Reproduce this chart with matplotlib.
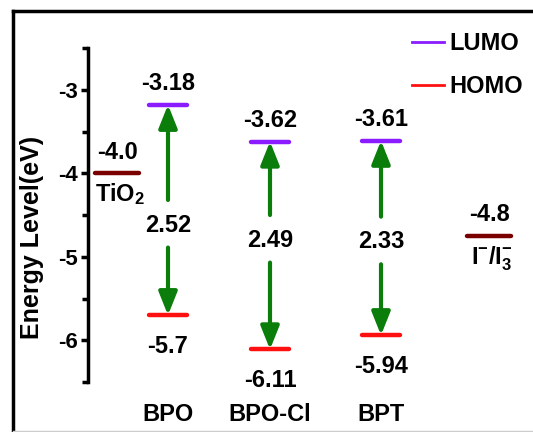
import matplotlib
matplotlib.use("Agg")
import matplotlib.pyplot as plt
from matplotlib.lines import Line2D

plt.rcParams['font.family'] = ['Liberation Sans', 'DejaVu Sans']
plt.rcParams['font.weight'] = 'bold'
plt.rcParams['mathtext.fontset'] = 'custom'
plt.rcParams['mathtext.rm'] = 'Liberation Sans:bold'
plt.rcParams['mathtext.bf'] = 'Liberation Sans:bold'
plt.rcParams['mathtext.it'] = 'Liberation Sans:bold'
plt.rcParams['mathtext.default'] = 'rm'

# data
compounds = ['BPO', 'BPO-Cl', 'BPT']
lumo = [-3.18, -3.62, -3.61]
homo = [-5.7, -6.11, -5.94]
gaps = ['2.52', '2.49', '2.33']
lumo_txt = ['-3.18', '-3.62', '-3.61']
homo_txt = ['-5.7', '-6.11', '-5.94']
refs = ['TiO$_2$', 'I$^{-}$/I$_3^{-}$']
ref_levels = [-4.0, -4.75]
ref_txt = ['-4.0', '-4.8']

# layout
x_cmp = [0.80, 1.82, 2.93]
x_ref = [0.29, 4.01]
gap_y = [-4.62, -4.80, -4.82]
hw = 0.19

fig = plt.figure(figsize=(5.33, 4.32), dpi=100)
W, H = 533.0, 432.0
ax = fig.add_axes([88/W, 1-382/H, (W-88)/W, (382-48)/H])

purple = '#8a1cff'
red = '#ff1010'
dark = '#7a0000'
green = '#0a7d0a'

for x, l, h in zip(x_cmp, lumo, homo):
    ax.plot([x-hw, x+hw], [l, l], color=purple, lw=3.2, solid_capstyle='round', zorder=3)
    ax.plot([x-hw, x+hw], [h, h], color=red, lw=3.2, solid_capstyle='round', zorder=3)

for x, e in zip(x_ref, ref_levels):
    ax.plot([x-hw-0.03, x+hw+0.03], [e, e], color=dark, lw=3.2, solid_capstyle='round')

# arrows and gap text
for x, l, h, g, gy in zip(x_cmp, lumo, homo, gaps, gap_y):
    aprops = dict(arrowstyle='-|>,head_length=0.7,head_width=0.28', color=green,
                  lw=3, shrinkA=0, shrinkB=0, mutation_scale=20)
    ax.annotate('', xy=(x, l), xytext=(x, gy+0.3), arrowprops=aprops)
    ax.annotate('', xy=(x, h), xytext=(x, gy-0.27), arrowprops=aprops)
    ax.text(x, gy, g, ha='center', va='center', fontsize=17)

for x, l, t in zip(x_cmp, lumo, lumo_txt):
    ax.annotate(t, (x, l), xytext=(0, 7), textcoords='offset points',
                ha='center', va='bottom', fontsize=17)
for x, h, t in zip(x_cmp, homo, homo_txt):
    ax.annotate(t, (x, h), xytext=(0, -14), textcoords='offset points',
                ha='center', va='top', fontsize=17)

for x, e, t, n in zip(x_ref, ref_levels, ref_txt, refs):
    ax.annotate(t, (x, e), xytext=(0, 7), textcoords='offset points',
                ha='center', va='bottom', fontsize=17)
    ax.annotate(n, (x, e), xytext=(2, -6), textcoords='offset points',
                ha='center', va='top', fontsize=17)

ax.set_xlim(0, 4.45)
ax.set_ylim(-6.5, -2.5)
ax.set_yticks([-6, -5, -4, -3])
ax.set_yticks([-6.5, -5.5, -4.5, -3.5, -2.5], minor=True)
ax.set_yticklabels(['-6', '-5', '-4', '-3'], fontsize=16)
ax.tick_params(axis='y', which='major', length=5, width=2.5, pad=2)
ax.tick_params(axis='y', which='minor', length=4, width=2.5)
ax.set_xticks(x_cmp)
ax.set_xticklabels(compounds, fontsize=17)
ax.tick_params(axis='x', length=0, pad=15)
for s in ['top', 'right', 'bottom']:
    ax.spines[s].set_visible(False)
ax.spines['left'].set_linewidth(2.5)

handles = [Line2D([], [], color=purple, lw=2), Line2D([], [], color=red, lw=2)]
fig.legend(handles, ['LUMO', 'HOMO'], loc='upper left', bbox_to_anchor=(412/W, 1-32/H),
           frameon=False, fontsize=17, handlelength=1.35, handletextpad=0.25,
           labelspacing=0.85, borderpad=0, borderaxespad=0)

fig.text(32/W, 1-237/H, 'Energy Level(eV)', rotation=90, ha='center', va='center', fontsize=18)

# outer frame
fig.add_artist(Line2D([13/W, 13/W], [0, 1-11/H], color='black', lw=2.5))
fig.add_artist(Line2D([13/W, 1], [1-11/H, 1-11/H], color='black', lw=2.5))
fig.add_artist(Line2D([13/W, 1], [1.5/H, 1.5/H], color='#cccccc', lw=1))

fig.savefig('out.png', dpi=100)
